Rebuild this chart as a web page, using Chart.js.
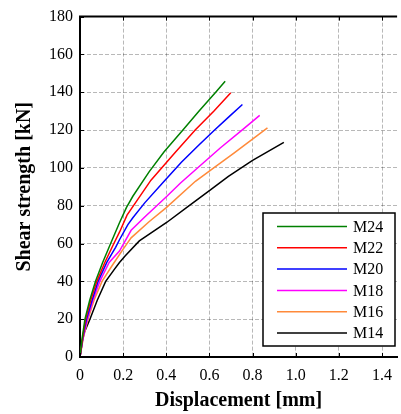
<!DOCTYPE html>
<html>
<head>
<meta charset="utf-8">
<script src="https://cdn.jsdelivr.net/npm/chart.js@4"></script>
<style>
  html, body { margin: 0; padding: 0; background: #fff; }
  #wrap { width: 401px; height: 414px; }
</style>
</head>
<body>
<div id="wrap"><canvas id="chart" width="401" height="414"></canvas></div>
<script>
const seriesNames = ['M24', 'M22', 'M20', 'M18', 'M16', 'M14'];
const seriesColors = ['#008000', '#ff0000', '#0000ff', '#ff00ff', '#ff8a3a', '#000000'];

// displacement [mm] / shear strength [kN]
const dispM24 = [0, 0.01, 0.023, 0.045, 0.072, 0.105, 0.142, 0.183, 0.215, 0.245, 0.321, 0.39, 0.477, 0.55, 0.629, 0.673];
const loadM24 = [0, 10, 20, 30, 40, 50, 60, 71, 79, 85, 98, 108.5, 120, 129.8, 140, 145.8];

const dispM22 = [0, 0.012, 0.026, 0.05, 0.078, 0.115, 0.157, 0.183, 0.218, 0.26, 0.329, 0.44, 0.534, 0.62, 0.699];
const loadM22 = [0, 10, 20, 30, 40, 50, 60, 66, 75, 82, 93.5, 108, 120, 130, 139.7];

const dispM20 = [0, 0.013, 0.03, 0.056, 0.084, 0.124, 0.165, 0.183, 0.222, 0.245, 0.3, 0.39, 0.47, 0.55, 0.624, 0.69, 0.753];
const loadM20 = [0, 10, 20, 30, 40, 50, 58, 62, 70, 73.6, 81.5, 93, 103, 112, 120, 127, 133.5];

const dispM18 = [0, 0.014, 0.034, 0.06, 0.092, 0.135, 0.183, 0.205, 0.237, 0.3, 0.398, 0.466, 0.55, 0.65, 0.751, 0.833];
const loadM18 = [0, 10, 20, 30, 40, 50, 56, 60.5, 67, 74, 84.5, 92, 100.5, 110.5, 120, 127.8];

const dispM16 = [0, 0.015, 0.037, 0.065, 0.102, 0.15, 0.2, 0.237, 0.32, 0.4, 0.535, 0.62, 0.712, 0.869];
const loadM16 = [0, 10, 20, 30, 40, 48.5, 57, 63, 71.5, 79, 92.9, 100, 107.7, 121.2];

const dispM14 = [0, 0.01, 0.02, 0.046, 0.08, 0.119, 0.16, 0.183, 0.21, 0.275, 0.4, 0.5, 0.6, 0.688, 0.8, 0.945];
const loadM14 = [0, 8, 13, 20, 30, 40, 46.5, 50, 53.5, 61.4, 71, 79.5, 88, 95.5, 104, 113.5];

const xTicks = [0, 0.2, 0.4, 0.6, 0.8, 1, 1.2, 1.4];
const yTicks = [0, 20, 40, 60, 80, 100, 120, 140, 160, 180];

const allDisp = [dispM24, dispM22, dispM20, dispM18, dispM16, dispM14];
const allLoad = [loadM24, loadM22, loadM20, loadM18, loadM16, loadM14];

const serif = "'Liberation Serif', 'DejaVu Serif', serif";

const datasets = seriesNames.map((name, i) => ({
  label: name,
  data: allDisp[i].map((x, k) => ({ x, y: allLoad[i][k] })),
  borderColor: seriesColors[i],
  backgroundColor: seriesColors[i],
  borderWidth: 1.5,
  pointRadius: 0,
  showLine: true,
  tension: 0,
}));

// top frame line and small inward tick marks
const framePlugin = {
  id: 'frame',
  afterDatasetsDraw(chart) {
    const { ctx, chartArea: a, scales } = chart;
    ctx.save();
    ctx.strokeStyle = '#000';
    ctx.lineWidth = 2;
    ctx.beginPath();
    ctx.moveTo(a.left - 1, a.top);
    ctx.lineTo(a.right, a.top);
    ctx.stroke();
    ctx.lineWidth = 1;
    ctx.beginPath();
    xTicks.forEach(v => {
      const px = Math.round(scales.x.getPixelForValue(v)) + 0.5;
      ctx.moveTo(px, a.bottom); ctx.lineTo(px, a.bottom - 4);
      ctx.moveTo(px, a.top); ctx.lineTo(px, a.top + 4);
    });
    yTicks.forEach(v => {
      const py = Math.round(scales.y.getPixelForValue(v)) + 0.5;
      ctx.moveTo(a.left, py); ctx.lineTo(a.left + 4, py);
    });
    ctx.stroke();
    ctx.restore();
  }
};

// boxed legend inside the plot, lower right
const boxLegend = {
  id: 'boxLegend',
  afterDraw(chart) {
    const ctx = chart.ctx;
    const bx = 263, by = 213, bw = 132, bh = 133;
    ctx.save();
    ctx.fillStyle = '#fff';
    ctx.fillRect(bx, by, bw, bh);
    ctx.strokeStyle = '#000';
    ctx.lineWidth = 1.5;
    ctx.strokeRect(bx, by, bw, bh);
    ctx.font = "16px " + serif;
    ctx.textBaseline = 'middle';
    chart.data.datasets.forEach((ds, i) => {
      const y = by + 13.5 + i * 21.3;
      ctx.strokeStyle = ds.borderColor;
      ctx.lineWidth = 1.5;
      ctx.beginPath();
      ctx.moveTo(277, y);
      ctx.lineTo(347, y);
      ctx.stroke();
      ctx.fillStyle = '#000';
      ctx.fillText(ds.label, 353, y + 1);
    });
    ctx.restore();
  }
};

new Chart(document.getElementById('chart'), {
  type: 'scatter',
  data: { datasets },
  options: {
    responsive: false,
    animation: false,
    layout: { padding: { top: 14, right: 0, bottom: 0, left: 0 } },
    plugins: {
      legend: { display: false },
      tooltip: { enabled: false },
    },
    scales: {
      x: {
        type: 'linear',
        min: 0,
        max: 1.47,
        afterFit: (s) => { s.height = 57; },
        afterBuildTicks: (s) => { s.ticks = xTicks.map(v => ({ value: v })); },
        ticks: {
          color: '#000',
          padding: 9,
          font: { family: serif, size: 16 },
          maxRotation: 0,
        },
        grid: { color: 'rgba(0,0,0,0.28)', lineWidth: 1, drawTicks: false },
        border: { display: true, color: '#000', width: 2, dash: [4, 2] },
        title: {
          display: true,
          text: 'Displacement [mm]',
          color: '#000',
          font: { family: serif, size: 20, weight: 'bold' },
          padding: { top: 0, bottom: 1 },
        },
      },
      y: {
        type: 'linear',
        min: 0,
        max: 180,
        afterFit: (s) => { s.width = 80; },
        afterBuildTicks: (s) => { s.ticks = yTicks.map(v => ({ value: v })); },
        ticks: {
          color: '#000',
          padding: 7,
          font: { family: serif, size: 16 },
        },
        grid: { color: 'rgba(0,0,0,0.28)', lineWidth: 1, drawTicks: false },
        border: { display: true, color: '#000', width: 2, dash: [4, 2] },
        title: {
          display: true,
          text: 'Shear strength [kN]',
          color: '#000',
          font: { family: serif, size: 20, weight: 'bold' },
          padding: { top: 13, bottom: 0 },
        },
      },
    },
  },
  plugins: [framePlugin, boxLegend],
});
</script>
</body>
</html>
